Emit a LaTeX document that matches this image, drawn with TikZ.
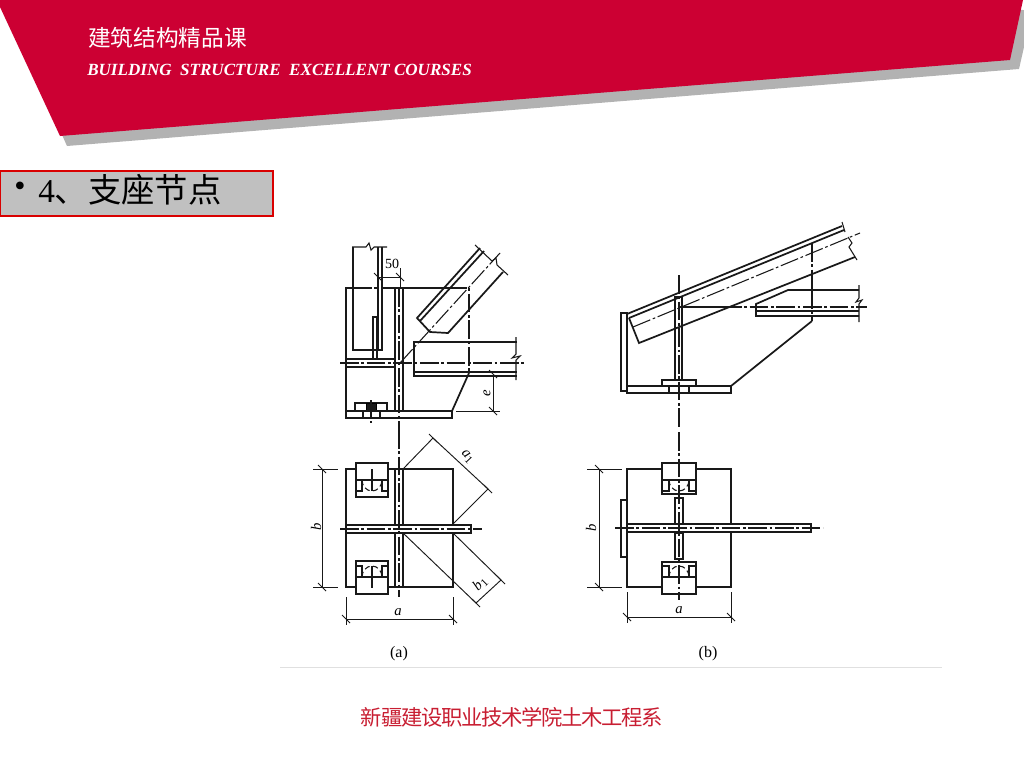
\documentclass[tikz,border=0pt]{standalone}
\usepackage{fontspec}
\usepackage{amsmath}
\setmainfont{Liberation Serif}
\newfontfamily\cjk{Noto Sans CJK SC}
\definecolor{bannerred}{RGB}{204,0,51}
\definecolor{bannergray}{RGB}{178,178,178}
\definecolor{boxgray}{RGB}{192,192,192}
\definecolor{footred}{RGB}{200,30,50}
\definecolor{ink}{RGB}{25,25,25}

\begin{document}
\begin{tikzpicture}[x=0.75pt,y=0.75pt,yscale=-1,xscale=1,
  heavy/.style={draw=ink,line width=1.3pt},
  plain/.style={draw=ink,line width=0.8pt},
  axis/.style={draw=ink,line width=0.8pt,dash pattern={on 14pt off 2pt on 2pt off 2pt}},
  dimline/.style={draw=ink,line width=0.7pt},
  label/.style={inner sep=0pt,font=\fontsize{11}{11}\selectfont\itshape},
  slash/.pic={\draw[dimline] (-4,4) -- (4,-4);},
  anchorplate/.pic={
    \draw[plain] (-16,0) -- (16,0);
    \draw[heavy] (-16,-11) -- (-10,-11) -- (-10,0);
    \draw[heavy] (16,-11) -- (10,-11) -- (10,0);
    \draw[plain,dash pattern={on 4pt off 2.5pt}] (-10,0) arc (180:0:10 and -11);
  }]
\useasboundingbox (0,0) rectangle (1024,768);

%Banner
\fill[bannergray] (5,7) -- (67,146) -- (1019,69) -- (1024,47) -- (1024,10) -- cycle;
\fill[bannerred] (0,0) -- (0,7) -- (60,136) -- (1010,60) -- (1023,0) -- cycle;
\draw (88,38) node (titleCn) [anchor=west,inner sep=0pt,text=white,font=\cjk\fontsize{17}{17}\selectfont] {建筑结构精品课};
\draw (87,70) node (titleEn) [anchor=west,inner sep=0pt,text=white,font=\bfseries\itshape\fontsize{12.8}{13}\selectfont] {BUILDING\ \ STRUCTURE\ \ EXCELLENT COURSES};

%Heading box
\draw[draw=red!85!black,fill=boxgray,line width=1.2pt] (0,171) rectangle (273,216);
\draw (20,189) node (headBullet) [inner sep=0pt,font=\fontsize{24}{24}\selectfont] {\textbullet};
\draw (38,190) node (headText) [anchor=west,inner sep=0pt,font=\fontsize{25}{25}\selectfont] {4{\cjk 、支座节点}};

%Footer
\draw[draw=black!12,line width=0.7pt] (280,667) -- (942,667);
\draw (512,717) node (footText) [text=footred,inner sep=0pt,font=\cjk\fontsize{16}{16}\selectfont\addfontfeature{LetterSpace=-6}] {新疆建设职业技术学院土木工程系};

%Elevation (a): column
\draw[plain] (352,247) -- (366,247) -- (369,243) -- (371,250) -- (374,247) -- (387,247);
\draw[heavy] (353,247) -- (353,350) -- (382,350) -- (382,247);
\draw[heavy] (378,247) -- (378,350);
\draw[heavy] (373,317) rectangle (377,359);
%Elevation (a): gusset outline
\draw[heavy] (353,288) -- (346,288) -- (346,418) -- (452,418) -- (452,411) -- (346,411);
\draw[axis] (353,288) -- (378,288);
\draw[heavy] (382,288) -- (448,288);
\draw[axis] (448,288) -- (469,288) -- (469,373);
\draw[heavy] (452,411) -- (469,373);
\draw[heavy] (395,288) rectangle (403,411);
\draw[axis] (399,288) -- (399,440);
\draw[heavy] (346,359) -- (395,359);
\draw[heavy] (346,367) -- (395,367);
%Elevation (a): diagonal member
\draw[heavy] (480,248) -- (417,318) -- (430,332) -- (448,333) -- (503,272);
\draw[heavy] (484,251) -- (420,321);
\draw[plain] (475,245) -- (492,261) -- (496,258) -- (497,265) -- (508,275);
\draw[axis] (400,363) -- (500,253);
%Elevation (a): lower chord
\draw[heavy] (517,342) -- (414,342) -- (414,376) -- (517,376);
\draw[heavy] (414,372) -- (517,372);
\draw[plain] (516,337) -- (516,354) -- (512,358) -- (520,356) -- (516,360) -- (516,380);
\draw[axis] (340,363) -- (524,363);
%Elevation (a): base
\draw[heavy] (355,411) rectangle (387,403);
\draw[fill=ink] (366,403) rectangle (376,411);
\draw[heavy] (363,411) rectangle (380,418);
\draw[axis] (371,400) -- (371,423);

%Elevation (a): dimensions
\draw[dimline] (378,277) -- (400,277);
\draw (378,277) pic {slash};
\draw (400,277) pic {slash};
\draw[dimline] (400,268) -- (400,288);
\draw (392,264) node (dim50) [inner sep=0pt,font=\fontsize{10.5}{11}\selectfont] {50};
\draw[dimline] (493,374) -- (493,411);
\draw[dimline] (456,411) -- (500,411);
\draw (493,374) pic {slash};
\draw (493,411) pic {slash};
\draw (487,393) node (dimE) [label,rotate=90] {e};

%Plan (a)
\draw[heavy] (346,469) rectangle (453,587);
\draw[heavy,fill=white] (356,463) rectangle (388,497);
\draw[heavy,fill=white] (356,561) rectangle (388,594);
\draw (372,480) pic {anchorplate};
\draw (372,577) pic[yscale=-1] {anchorplate};
\draw[plain] (372,469) -- (372,491);
\draw[plain] (372,566) -- (372,588);
\draw[heavy] (395,469) rectangle (403,587);
\draw[heavy,fill=white] (346,525) rectangle (471,533);
\draw[axis] (340,529) -- (482,529);
\draw[axis] (399,430) -- (399,597);

%Plan (a): dimensions
\draw[dimline] (403,469) -- (433,438) -- (488,489) -- (453,524);
\draw (433,438) pic {slash};
\draw (488,489) pic {slash};
\draw (467,457) node (dimA1) [label,rotate=-47] {a\raisebox{-2pt}{\upshape\fontsize{8.5}{9}\selectfont 1}};
\draw[dimline] (403,533) -- (476,603) -- (501,580) -- (453,533);
\draw (476,603) pic {slash};
\draw (501,580) pic {slash};
\draw (480,584) node (dimB1) [label,rotate=45] {b\raisebox{-2pt}{\upshape\fontsize{8.5}{9}\selectfont 1}};
\draw[dimline] (313,469) -- (338,469);
\draw[dimline] (313,587) -- (338,587);
\draw[dimline] (322,469) -- (322,587);
\draw (322,469) pic {slash};
\draw (322,587) pic {slash};
\draw (316,527) node (dimB) [label,rotate=90] {b};
\draw[dimline] (346,597) -- (346,625);
\draw[dimline] (453,597) -- (453,625);
\draw[dimline] (346,619) -- (453,619);
\draw (346,619) pic {slash};
\draw (453,619) pic {slash};
\draw (398,612) node (dimA) [label] {a};
\draw (399,654) node (capA) [inner sep=0pt,font=\fontsize{12}{12}\selectfont] {(a)};

%Elevation (b): top chord
\draw[heavy] (627,314) -- (842,226);
\draw[heavy] (629,318) -- (844,230);
\draw[heavy] (629,318) -- (639,343) -- (855,257);
\draw[plain] (842,222) -- (845,232);
\draw[plain] (848,237) -- (852,243) -- (849,247) -- (857,260);
\draw[axis] (633,327) -- (860,233);
%Elevation (b): gusset
\draw[heavy] (621,313) rectangle (627,391);
\draw[heavy] (627,386) rectangle (731,393);
\draw[heavy] (731,386) -- (812,321);
\draw[axis] (812,243) -- (812,275);
\draw[heavy] (812,275) -- (812,290);
\draw[axis] (812,290) -- (812,316);
\draw[heavy] (812,316) -- (812,321);
\draw[heavy] (675,297) rectangle (682,380);
\draw[heavy,fill=white] (662,380) rectangle (696,386);
\draw[heavy] (669,386) rectangle (689,393);
\draw[axis] (679,275) -- (679,428);
%Elevation (b): lower chord
\draw[heavy] (859,290) -- (788,290) -- (756,304) -- (756,316) -- (859,316);
\draw[heavy] (756,311) -- (859,311);
\draw[plain] (859,285) -- (859,298) -- (856,302) -- (862,300) -- (859,304) -- (859,322);
\draw[plain] (679,307) -- (723,307);
\draw[axis] (723,307) -- (867,307);

%Plan (b)
\draw[heavy] (627,469) rectangle (731,587);
\draw[heavy,fill=white] (662,463) rectangle (696,494);
\draw[heavy,fill=white] (662,562) rectangle (696,594);
\draw (679,480) pic {anchorplate};
\draw (679,577) pic[yscale=-1] {anchorplate};
\draw[heavy] (675,498) rectangle (683,524);
\draw[heavy] (675,533) rectangle (683,559);
\draw[heavy] (621,500) rectangle (627,557);
\draw[heavy,fill=white] (627,524) rectangle (811,532);
\draw[axis] (615,528) -- (823,528);
\draw[axis] (679,432) -- (679,600);

%Plan (b): dimensions
\draw[dimline] (587,469) -- (622,469);
\draw[dimline] (587,587) -- (622,587);
\draw[dimline] (599,469) -- (599,587);
\draw (599,469) pic {slash};
\draw (599,587) pic {slash};
\draw (591,528) node (dimBb) [label,rotate=90] {b};
\draw[dimline] (627,592) -- (627,623);
\draw[dimline] (731,592) -- (731,623);
\draw[dimline] (627,617) -- (731,617);
\draw (627,617) pic {slash};
\draw (731,617) pic {slash};
\draw (679,610) node (dimAb) [label] {a};
\draw (708,654) node (capB) [inner sep=0pt,font=\fontsize{12}{12}\selectfont] {(b)};

\end{tikzpicture}
\end{document}
